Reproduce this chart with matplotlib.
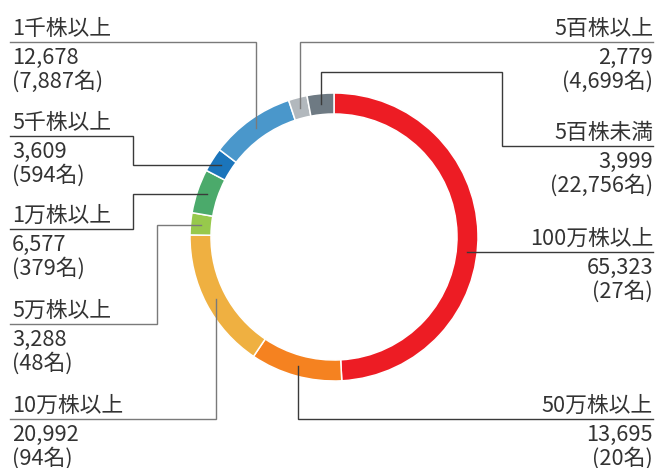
import numpy as np
import matplotlib.pyplot as plt

plt.rcParams['font.family'] = ['Noto Sans CJK JP', 'DejaVu Sans']

# data (clockwise from top)
labels = ['100万株以上', '50万株以上', '10万株以上', '5万株以上', '1万株以上',
          '5千株以上', '1千株以上', '5百株以上', '5百株未満']
shares = [65323, 13695, 20992, 3288, 6577, 3609, 12678, 2779, 3999]
holders = ['27', '20', '94', '48', '379', '594', '7,887', '4,699', '22,756']
colors = ['#ED1C24', '#F58220', '#EFB041', '#97C94C', '#4BAA6B',
          '#1B75BB', '#4A97CB', '#B2B8BD', '#6E7A83']

W, H = 656, 468
cx, cy = 334, 237
R, ring = 144, 21
rmid = R - ring / 2
txt = '#333333'
fs = 15.7

fig = plt.figure(figsize=(W / 100, H / 100), dpi=100)
ax = fig.add_axes([0, 0, 1, 1])

# y axis points down, so start at -90 and go "counterclockwise" in data
ax.pie(shares, colors=colors, startangle=-90, counterclock=True,
       radius=R, center=(cx, cy),
       wedgeprops=dict(width=ring, edgecolor='white', linewidth=1.1))
ax.set_xlim(0, W)
ax.set_ylim(H, 0)
ax.set_aspect('auto')
ax.axis('off')

# anchor point of every wedge on the ring midline
frac = np.array(shares) / np.sum(shares)
mids = np.cumsum(frac) - frac / 2
theta = np.deg2rad(-90 + mids * 360)
anc_x = cx + rmid * np.cos(theta)
anc_y = cy + rmid * np.sin(theta)

# label layout: (side, underline y, elbow x or None)
layout = {
    '100万株以上': ('R', 252),
    '50万株以上': ('R', 419),
    '10万株以上': ('L', 419),
    '5万株以上': ('L', 324),
    '1万株以上': ('L', 229),
    '5千株以上': ('L', 136),
    '1千株以上': ('L', 42),
    '5百株以上': ('R', 42),
    '5百株未満': ('R', 146),
}
dark = '#3a3a3a'
gray = '#7a7a7a'
xl, xr = 10, 653

for i, lab in enumerate(labels):
    side, ly = layout[lab]
    ax_, ay_ = anc_x[i], anc_y[i]
    if lab == '100万株以上':
        xs = [xr, cx + np.sqrt(rmid**2 - (ly - cy)**2)]
        ys = [ly, ly]
        c = dark
    elif lab in ('1千株以上', '10万株以上'):
        xs, ys, c = [xl, ax_, ax_], [ly, ly, ay_], gray
    elif lab in ('5百株以上', '50万株以上'):
        xs, ys = [xr, ax_, ax_], [ly, ly, ay_]
        c = gray if lab == '5百株以上' else dark
    elif lab == '5百株未満':
        xs = [ax_, ax_, 502, 502, xr]
        ys = [ay_, 72, 72, ly, ly]
        c = dark
    else:
        ex = 157 if lab == '5万株以上' else 133
        xs = [xl, ex, ex, ax_]
        ys = [ly, ly, ay_, ay_]
        c = gray if lab == '5万株以上' else dark
    ax.plot(xs, ys, color=c, lw=1.0, solid_joinstyle='miter')

    if side == 'L':
        tx, ha = 12, 'left'
    else:
        tx, ha = 653, 'right'
    ax.text(tx, ly - 7, lab, ha=ha, va='baseline', fontsize=fs, color=txt)
    ax.text(tx, ly + 22, f'{shares[i]:,}', ha=ha, va='baseline',
            fontsize=fs, color=txt)
    ax.text(tx, ly + 46, f'({holders[i]}名)', ha=ha, va='baseline',
            fontsize=fs, color=txt)

fig.savefig('out.png', dpi=100)
